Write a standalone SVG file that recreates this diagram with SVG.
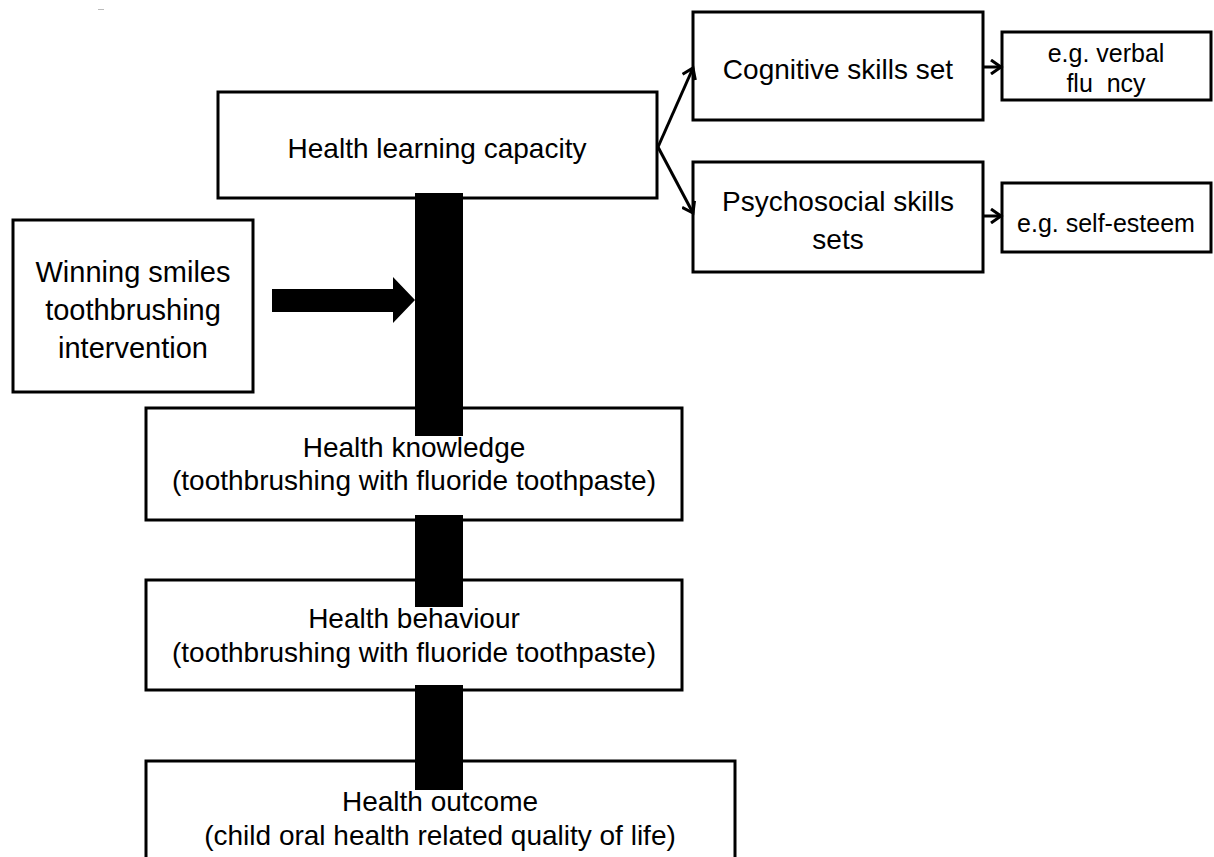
<svg xmlns="http://www.w3.org/2000/svg" width="1214" height="857" viewBox="0 0 1214 857">
<defs>
<style>
.box{fill:#fff;stroke:#000;stroke-width:3}
.t{font-family:"Liberation Sans",Arial,sans-serif;font-size:28px;fill:#000;text-anchor:middle}
.s{font-size:25px}
.w{font-size:29px}
.ln{stroke:#000;stroke-width:3;fill:none}
.bar{fill:#000}
</style>
<marker id="ah" markerUnits="userSpaceOnUse" markerWidth="16" markerHeight="16" viewBox="0 0 16 16" refX="13" refY="8" orient="auto">
<path d="M3,1 L13,8 L3,15" fill="none" stroke="#000" stroke-width="3"/>
</marker>
</defs>
<rect width="1214" height="857" fill="#fff"/>
<line x1="98" y1="9.5" x2="104" y2="9.5" stroke="#bbb" stroke-width="1"/>

<g id="hlc">
<rect class="box" x="218" y="92" width="439" height="106"/>
<text class="t" x="437" y="158">Health learning capacity</text>
</g>
<g id="cognitive">
<rect class="box" x="693" y="12" width="290" height="108"/>
<text class="t" x="838" y="79">Cognitive skills set</text>
</g>
<g id="verbal">
<rect class="box" x="1002" y="32" width="209" height="68"/>
<text class="t s" x="1106" y="62">e.g. verbal</text>
<text class="t s" x="1106" y="92" xml:space="preserve">flu  ncy</text>
</g>
<g id="psychosocial">
<rect class="box" x="693" y="162" width="290" height="110"/>
<text class="t" x="838" y="211">Psychosocial skills</text>
<text class="t" x="838" y="249">sets</text>
</g>
<g id="selfesteem">
<rect class="box" x="1002" y="183" width="209" height="69"/>
<text class="t s" x="1106" y="232">e.g. self-esteem</text>
</g>
<g id="winning">
<rect class="box" x="13" y="220" width="240" height="172"/>
<text class="t w" x="133" y="282">Winning smiles</text>
<text class="t w" x="133" y="320">toothbrushing</text>
<text class="t w" x="133" y="358">intervention</text>
</g>
<g id="knowledge">
<rect class="box" x="146" y="408" width="536" height="112"/>
<text class="t" x="414" y="457">Health knowledge</text>
<text class="t" x="414" y="490">(toothbrushing with fluoride toothpaste)</text>
</g>
<g id="behaviour">
<rect class="box" x="146" y="580" width="536" height="110"/>
<text class="t" x="414" y="628">Health behaviour</text>
<text class="t" x="414" y="662">(toothbrushing with fluoride toothpaste)</text>
</g>
<g id="outcome">
<rect class="box" x="146" y="761" width="589" height="120"/>
<text class="t" x="440" y="811">Health outcome</text>
<text class="t" x="440" y="845">(child oral health related quality of life)</text>
</g>

<g id="connectors">
<rect class="bar" x="415" y="193" width="48" height="243"/>
<rect class="bar" x="415" y="515" width="48" height="92"/>
<rect class="bar" x="415" y="685" width="48" height="105"/>
<polygon class="bar" points="272,289 393,289 393,277 415,300 393,323 393,312 272,312"/>
<line class="ln" x1="658" y1="147" x2="693" y2="68" marker-end="url(#ah)"/>
<line class="ln" x1="658" y1="147" x2="693" y2="213" marker-end="url(#ah)"/>
<line class="ln" x1="983" y1="67" x2="1001" y2="67" marker-end="url(#ah)"/>
<line class="ln" x1="983" y1="216" x2="1001" y2="216" marker-end="url(#ah)"/>
</g>
</svg>
